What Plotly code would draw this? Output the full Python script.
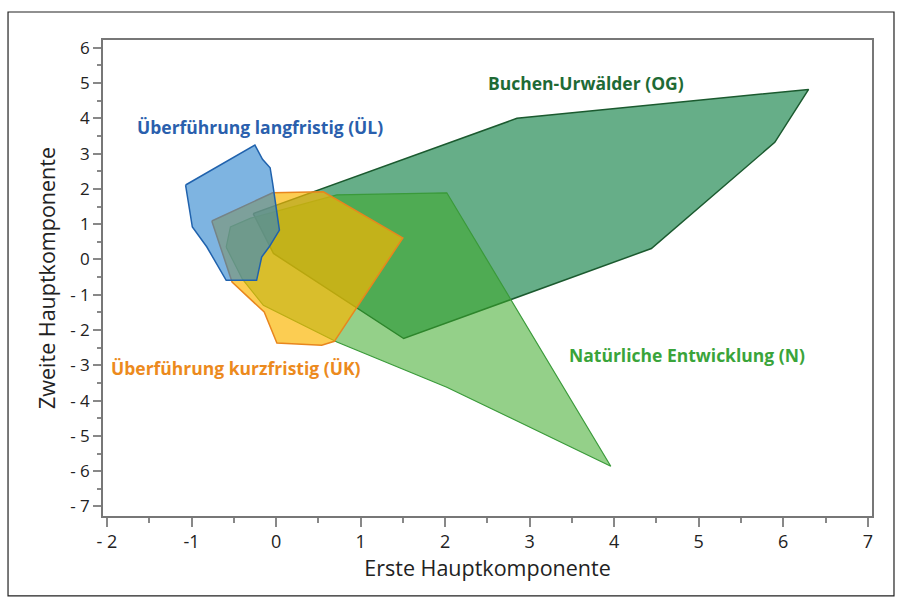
import plotly.graph_objects as go

# Polygon corners (Hauptkomponenten 1 und 2)
og_x = [-0.27, 2.85, 6.30, 5.90, 4.44, 1.51, -0.03, -0.27]
og_y = [1.30, 4.00, 4.82, 3.32, 0.31, -2.24, 0.17, 1.30]

n_x = [-0.59, -0.40, -0.15, 0.72, 2.02, 3.96, 2.02, 0.72, -0.30, -0.54, -0.59]
n_y = [0.35, -0.55, -1.30, -2.34, -3.62, -5.86, 1.89, 1.83, 1.17, 0.92, 0.35]

uk_x = [-0.76, -0.04, 0.56, 1.50, 0.69, 0.54, 0.01, -0.14, -0.52, -0.76]
uk_y = [1.09, 1.89, 1.92, 0.61, -2.32, -2.43, -2.37, -1.49, -0.64, 1.09]

ul_x = [-1.07, -0.25, -0.16, -0.07, -0.04, 0.04, -0.08, -0.17, -0.23, -0.59, -0.82, -0.99, -1.07]
ul_y = [2.11, 3.24, 2.84, 2.60, 2.16, 0.83, 0.36, 0.07, -0.59, -0.59, 0.36, 0.92, 2.11]

x_ticks = [-2, -1, 0, 1, 2, 3, 4, 5, 6, 7]
x_ticktext = ["- 2", "-1", "0", "1", "2", "3", "4", "5", "6", "7"]
y_ticks = [6, 5, 4, 3, 2, 1, 0, -1, -2, -3, -4, -5, -6, -7]
y_ticktext = ["6", "5", "4", "3", "2", "1", "0", "- 1", "- 2", "- 3", "- 4", "- 5", "- 6", "- 7"]

labels = ["Buchen-Urwälder (OG)", "Überführung langfristig (ÜL)",
          "Überführung kurzfristig (ÜK)", "Natürliche Entwicklung (N)"]
label_x = [3.67, -0.19, -0.48, 4.86]
label_y = [5.0, 3.75, -3.08, -2.72]
label_colors = ["#1e6a35", "#2a5fad", "#ec8a1d", "#3aa43a"]

FONT = "Open Sans, Lato, sans-serif"

fig = go.Figure()
fig.add_trace(go.Scatter(x=og_x, y=og_y, mode="lines", fill="toself",
                         fillcolor="rgba(20,130,72,0.65)",
                         line=dict(color="#1b5a2f", width=1.5), hoverinfo="skip"))
fig.add_trace(go.Scatter(x=n_x, y=n_y, mode="lines", fill="toself",
                         fillcolor="rgba(60,170,40,0.55)",
                         line=dict(color="#3a9a3a", width=1.2), hoverinfo="skip"))
fig.add_trace(go.Scatter(x=uk_x, y=uk_y, mode="lines", fill="toself",
                         fillcolor="rgba(250,182,0,0.68)",
                         line=dict(color="#e8861e", width=1.5), hoverinfo="skip"))
fig.add_trace(go.Scatter(x=ul_x, y=ul_y, mode="lines", fill="toself",
                         fillcolor="rgba(40,130,205,0.6)",
                         line=dict(color="#2062ad", width=1.5), hoverinfo="skip"))

for t, xx, yy, c in zip(labels, label_x, label_y, label_colors):
    fig.add_annotation(x=xx, y=yy, text="<b>%s</b>" % t, showarrow=False,
                       font=dict(family=FONT, size=17.5, color=c))

# outer frame around the whole graphic
fig.add_shape(type="rect", xref="paper", yref="paper",
              x0=-0.1235, x1=1.0286, y0=-0.168, y1=1.0588,
              line=dict(color="#222", width=1.2))

fig.update_layout(
    width=903, height=598,
    margin=dict(l=103, r=31, t=40, b=82),
    paper_bgcolor="white", plot_bgcolor="white",
    showlegend=False,
    font=dict(family=FONT, size=17, color="#222"),
)
fig.update_xaxes(
    range=[-2.047, 7.05], tickvals=x_ticks, ticktext=x_ticktext,
    tickfont=dict(size=18),
    showgrid=False, zeroline=False, showline=True, mirror=True,
    linecolor="#777", linewidth=1.5,
    ticks="outside", ticklen=9, tickcolor="#888", tickwidth=1.5,
    minor=dict(dtick=0.5, tick0=0, ticks="outside", ticklen=5, tickcolor="#888"),
    title=dict(text="Erste Hauptkomponente", font=dict(size=21.5), standoff=4),
)
fig.update_yaxes(
    range=[-7.27, 6.22], tickvals=y_ticks, ticktext=y_ticktext,
    tickfont=dict(size=17),
    showgrid=False, zeroline=False, showline=True, mirror=True,
    linecolor="#777", linewidth=1.5,
    ticks="outside", ticklen=8, tickcolor="#888", tickwidth=1.5,
    minor=dict(dtick=0.5, tick0=0, ticks="outside", ticklen=4, tickcolor="#888"),
    title=dict(text="Zweite Hauptkomponente", font=dict(size=21.5), standoff=9),
)

fig.write_html("out.html", config={"displayModeBar": False},
               post_script="document.body.style.margin='0';")
